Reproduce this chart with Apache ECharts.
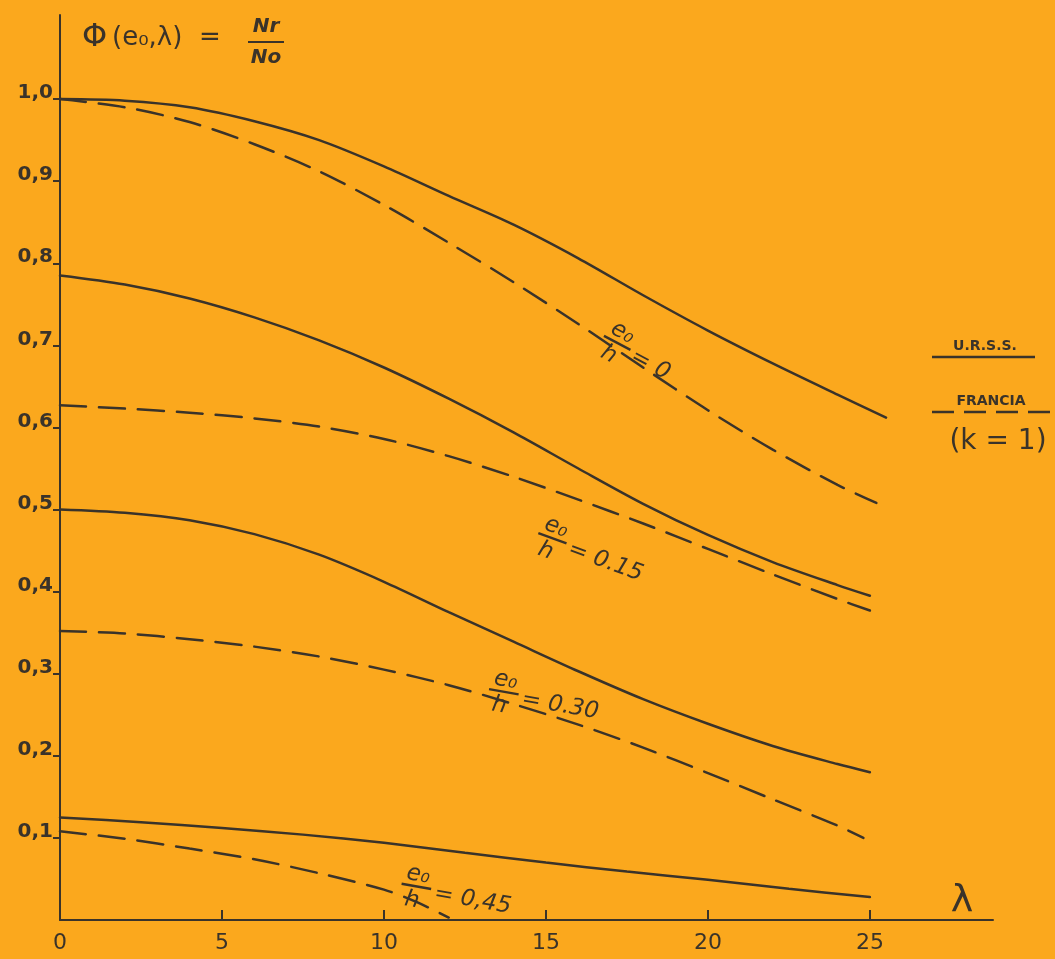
<!DOCTYPE html>
<html><head><meta charset="utf-8">
<script src="https://cdn.jsdelivr.net/npm/echarts@6/dist/echarts.min.js"></script>
<style>html,body{margin:0;padding:0;background:#FBA81D;} #c{width:1055px;height:959px;}</style>
</head><body><div id="c"></div>
<script>
// ---- data ----
const lambdaA   = [0,2,4,6,8,10,12,14,16,18,20,22,24,25.5];
const urss0     = [1.0,0.998,0.99,0.973,0.95,0.918,0.882,0.847,0.806,0.761,0.718,0.678,0.64,0.612];
const lambdaB   = [0,2,4,6,8,10,12,14,16,18,20,22,24,25.2];
const francia0  = [1.0,0.99,0.972,0.945,0.912,0.871,0.825,0.777,0.726,0.673,0.621,0.573,0.53,0.508];
const lambdaC   = [0,2,4,6,8,10,12,14,16,18,20,22,24,25];
const urss15    = [0.785,0.774,0.757,0.734,0.706,0.673,0.635,0.594,0.55,0.507,0.469,0.436,0.408,0.395];
const francia15 = [0.627,0.623,0.618,0.611,0.601,0.586,0.565,0.54,0.512,0.483,0.452,0.421,0.391,0.377];
const urss30    = [0.5,0.496,0.487,0.47,0.445,0.412,0.375,0.339,0.303,0.269,0.239,0.212,0.19,0.18];
const lambdaD   = [0,2,4,6,8,10,12,14,16,18,20,22,24,24.8];
const francia30 = [0.352,0.349,0.342,0.333,0.321,0.305,0.286,0.263,0.238,0.21,0.179,0.147,0.115,0.1];
const lambdaE   = [0,2.5,5,7.5,10,12.5,15,17.5,20,22.5,25];
const urss45    = [0.125,0.119,0.112,0.104,0.094,0.082,0.07,0.059,0.049,0.038,0.028];
const lambdaF   = [0,2,4,6,8,10,11,12];
const francia45 = [0.108,0.099,0.087,0.074,0.057,0.037,0.022,0.003];

const xTickValues  = [5,10,15,20,25];
const xLabelValues = [0,5,10,15,20,25];
const yTickValues  = [0.1,0.2,0.3,0.4,0.5,0.6,0.7,0.8,0.9,1.0];

const curveLabels = [
  {text:'= 0',    at:[17.2,0.703], angle:28},
  {text:'= 0.15', at:[15.2,0.465], angle:20},
  {text:'= 0.30', at:[13.7,0.278], angle:10},
  {text:'= 0,45', at:[11.0,0.041], angle:10}
];

// ---- styles ----
const INK = '#3a332a';
const zip = (xs, ys) => xs.map((x,i)=>[x, ys[i]]);
function line(name, xs, ys, dashed){
  return {name, type:'line', data: zip(xs,ys), smooth:0.3, symbol:'none', silent:true,
    lineStyle:{color:INK, width:2.5, type: dashed ? [26,13] : 'solid', cap:'round'}};
}

const chart = echarts.init(document.getElementById('c'), null, {renderer:'canvas'});
chart.setOption({
  backgroundColor:'#FBA81D',
  animation:false,
  grid:{left:60, right:62, top:15, bottom:39},
  xAxis:{type:'value', min:0, max:28.8, interval:5,
    axisLine:{lineStyle:{color:INK, width:2}},
    axisTick:{show:true, inside:true, length:10, customValues:xTickValues, lineStyle:{color:INK, width:2}},
    axisLabel:{customValues:xLabelValues, margin:12, fontSize:22, color:INK, fontFamily:'DejaVu Sans'},
    splitLine:{show:false}},
  yAxis:{type:'value', min:0, max:1.1024, interval:0.1,
    axisLine:{show:true, lineStyle:{color:INK, width:2}},
    axisTick:{show:true, inside:false, length:7, customValues:yTickValues, lineStyle:{color:INK, width:2}},
    axisLabel:{customValues:yTickValues, margin:7, fontSize:20, fontWeight:'bold', color:INK, fontFamily:'DejaVu Sans',
      verticalAlign:'bottom', padding:[0,0,-4,0],
      formatter:v=>v.toFixed(1).replace('.',',')},
    splitLine:{show:false}},
  series:[
    line('URSS e/h=0', lambdaA, urss0, false),
    line('Francia e/h=0', lambdaB, francia0, true),
    line('URSS e/h=0.15', lambdaC, urss15, false),
    line('Francia e/h=0.15', lambdaC, francia15, true),
    line('URSS e/h=0.30', lambdaC, urss30, false),
    line('Francia e/h=0.30', lambdaD, francia30, true),
    line('URSS e/h=0.45', lambdaE, urss45, false),
    line('Francia e/h=0.45', lambdaF, francia45, true)
  ]
});

// ---- annotations ----
const FONT_IT = 'italic 23px "DejaVu Sans"';
const g = [];
curveLabels.forEach(l=>{
  const p = chart.convertToPixel({gridIndex:0}, l.at);
  g.push({type:'group', x:p[0], y:p[1], rotation:-l.angle*Math.PI/180, silent:true, children:[
    {type:'text', x:0, y:0, style:{text:'e\u2080', font:FONT_IT, fill:INK, align:'center', verticalAlign:'bottom'}},
    {type:'line', shape:{x1:-15,y1:0,x2:15,y2:0}, style:{stroke:INK, lineWidth:2.4}},
    {type:'text', x:-2, y:3, style:{text:'h', font:FONT_IT, fill:INK, align:'center', verticalAlign:'top'}},
    {type:'text', x:19, y:4, style:{text:l.text, font:FONT_IT, fill:INK, align:'left', verticalAlign:'middle'}}
  ]});
});
// title
g.push({type:'text', x:82, y:38, silent:true, style:{text:'\u03A6', font:'32px "DejaVu Sans"', fill:INK, verticalAlign:'middle'}});
g.push({type:'text', x:112, y:38, silent:true, style:{text:'(e\u2080,\u03BB)  =', font:'26px "DejaVu Sans"', fill:INK, verticalAlign:'middle'}});
g.push({type:'text', x:266, y:37, silent:true, style:{text:'Nr', font:'italic bold 20px "DejaVu Sans"', fill:INK, align:'center', verticalAlign:'bottom'}});
g.push({type:'line', silent:true, shape:{x1:248,y1:42,x2:284,y2:42}, style:{stroke:INK, lineWidth:2}});
g.push({type:'text', x:266, y:48, silent:true, style:{text:'No', font:'italic bold 20px "DejaVu Sans"', fill:INK, align:'center', verticalAlign:'top'}});
// lambda
g.push({type:'text', x:962, y:920, silent:true, style:{text:'\u03BB', font:'38px "DejaVu Sans"', fill:INK, align:'center', verticalAlign:'bottom'}});
// legend
g.push({type:'text', x:985, y:353, silent:true, style:{text:'U.R.S.S.', font:'bold 14px "DejaVu Sans"', fill:INK, align:'center', verticalAlign:'bottom'}});
g.push({type:'line', silent:true, shape:{x1:932,y1:357,x2:1035,y2:357}, style:{stroke:INK, lineWidth:2.5}});
g.push({type:'text', x:991, y:408, silent:true, style:{text:'FRANCIA', font:'bold 14px "DejaVu Sans"', fill:INK, align:'center', verticalAlign:'bottom'}});
g.push({type:'line', silent:true, shape:{x1:932,y1:412,x2:1055,y2:412}, style:{stroke:INK, lineWidth:2.5, lineDash:[22,10]}});
g.push({type:'text', x:998, y:442, silent:true, style:{text:'(k = 1)', font:'28px "DejaVu Sans"', fill:INK, align:'center', verticalAlign:'middle'}});
chart.setOption({graphic:g});
</script>
</body></html>
